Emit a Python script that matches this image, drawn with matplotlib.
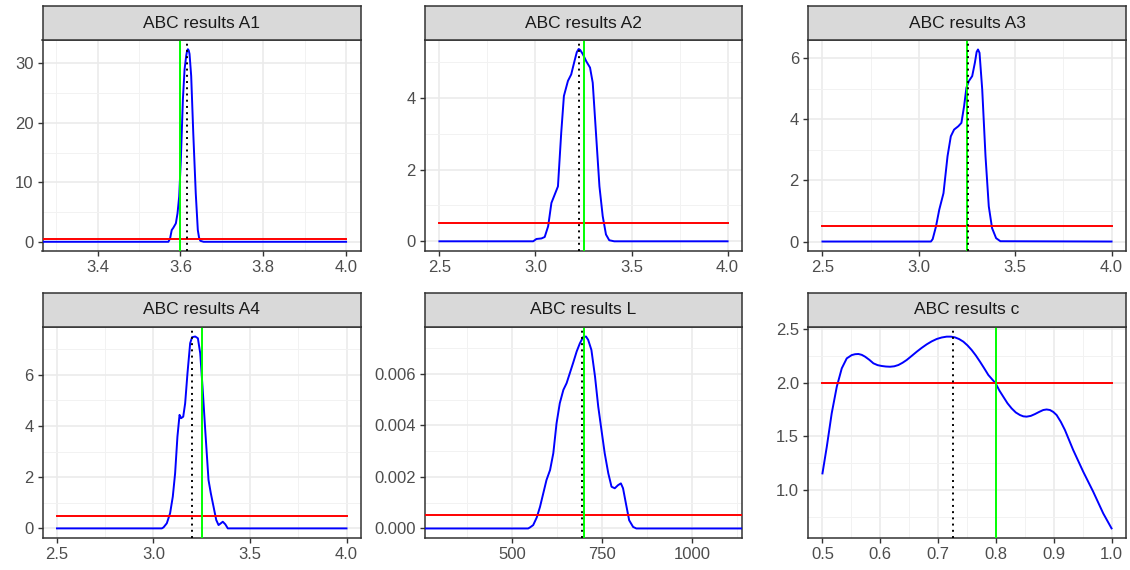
import matplotlib
matplotlib.use("Agg")
import matplotlib.pyplot as plt
from matplotlib.ticker import MultipleLocator

plt.rcParams['font.family'] = ['Liberation Sans', 'DejaVu Sans']

# ---- data ----
titles = ["ABC results A1", "ABC results A2", "ABC results A3",
          "ABC results A4", "ABC results L", "ABC results c"]

a1_x = [3.26, 3.571, 3.575, 3.579, 3.583, 3.589, 3.593, 3.597, 3.601, 3.606, 3.610,
        3.614, 3.616, 3.618, 3.620, 3.622, 3.626, 3.631, 3.637, 3.642, 3.645,
        3.648, 3.656, 4.0]
a1_y = [0, 0, 0.56, 1.97, 2.37, 3.10, 4.79, 7.61, 13.8, 24.0, 29.0,
        31.3, 32.1, 32.4, 32.2, 31.6, 27.9, 18.3, 8.18, 1.97, 0.7,
        0.17, 0, 0]

a2_x = [2.5, 2.988, 3.005, 3.031, 3.048, 3.066, 3.083, 3.10, 3.117, 3.134, 3.148,
        3.169, 3.186, 3.203, 3.215, 3.225, 3.233, 3.247, 3.264, 3.284, 3.298,
        3.316, 3.333, 3.35, 3.367, 3.384, 3.41, 4.0]
a2_y = [0, 0, 0.065, 0.08, 0.12, 0.42, 1.07, 1.30, 1.53, 3.02, 4.05,
        4.47, 4.65, 5.02, 5.27, 5.36, 5.33, 5.21, 5.02, 4.84, 4.42,
        2.93, 1.53, 0.70, 0.19, 0.03, 0, 0]

a3_x = [2.5, 3.063, 3.072, 3.089, 3.106, 3.128, 3.149, 3.166, 3.183, 3.205, 3.221,
        3.235, 3.247, 3.26, 3.277, 3.291, 3.300, 3.307, 3.315, 3.329, 3.346,
        3.363, 3.380, 3.401, 3.423, 4.0]
a3_y = [0, 0, 0.08, 0.49, 1.04, 1.58, 2.79, 3.44, 3.66, 3.77, 3.88,
        4.43, 5.03, 5.25, 5.41, 5.85, 6.20, 6.28, 6.17, 4.97, 2.79,
        1.15, 0.44, 0.11, 0.01, 0]

a4_x = [2.5, 3.043, 3.052, 3.069, 3.086, 3.10, 3.112, 3.124, 3.135, 3.143, 3.154,
        3.164, 3.176, 3.19, 3.20, 3.216, 3.23, 3.242, 3.254, 3.268, 3.285,
        3.297, 3.311, 3.325, 3.337, 3.349, 3.359, 3.372, 3.385, 4.0]
a4_y = [0, 0, 0.04, 0.2, 0.59, 1.24, 2.15, 3.58, 4.43, 4.30, 4.36,
        4.88, 6.05, 7.23, 7.46, 7.49, 7.42, 6.84, 5.53, 3.84, 1.89,
        1.37, 0.85, 0.33, 0.13, 0.2, 0.26, 0.16, 0, 0]

l_x = [250, 544, 549, 558, 568, 577, 586, 595, 605, 614, 623, 632, 642, 651, 660,
       669, 679, 688, 697, 705, 711, 720, 730, 739, 748, 757, 767, 776, 785,
       794, 802, 808, 816, 825, 836, 845, 1150]
l_y = [0, 0, 0.00004, 0.00013, 0.00043, 0.00084, 0.00136, 0.00188, 0.00227,
       0.00292, 0.00408, 0.00486, 0.00538, 0.00564, 0.00603, 0.00642, 0.00687,
       0.00719, 0.00743, 0.00745, 0.00732, 0.00693, 0.0059, 0.00473, 0.00382,
       0.00292, 0.00214, 0.00162, 0.00156, 0.00168, 0.00175, 0.00156, 0.00097,
       0.00032, 0.00006, 0, 0]

c_x = [0.5, 0.5075, 0.516, 0.5248, 0.5334, 0.542, 0.5507, 0.5565, 0.5622, 0.568,
       0.5737, 0.581, 0.5881, 0.5953, 0.6025, 0.6097, 0.6169, 0.6241, 0.6313,
       0.6385, 0.6457, 0.6543, 0.663, 0.6716, 0.6803, 0.689, 0.6976, 0.7062,
       0.7149, 0.7221, 0.7293, 0.7365, 0.7437, 0.7509, 0.7581, 0.7653, 0.7725,
       0.7797, 0.7869, 0.7995, 0.8062, 0.8128, 0.82, 0.8272, 0.8344, 0.8416,
       0.8474, 0.8531, 0.8603, 0.8675, 0.8747, 0.8819, 0.8877, 0.8934, 0.8992,
       0.905, 0.9122, 0.9194, 0.9337, 0.951, 0.9683, 0.9856, 1.0]
c_y = [1.153, 1.402, 1.714, 1.963, 2.134, 2.227, 2.258, 2.266, 2.268, 2.260,
       2.243, 2.214, 2.181, 2.164, 2.156, 2.151, 2.149, 2.153, 2.165,
       2.186, 2.212, 2.250, 2.289, 2.325, 2.358, 2.386, 2.408, 2.422,
       2.430, 2.430, 2.423, 2.407, 2.383, 2.348, 2.305, 2.254, 2.196,
       2.135, 2.072, 1.994, 1.925, 1.869, 1.808, 1.760, 1.722, 1.698,
       1.686, 1.683, 1.690, 1.707, 1.727, 1.745, 1.750, 1.745, 1.727,
       1.698, 1.635, 1.558, 1.371, 1.169, 0.982, 0.78, 0.64]

curves_x = [a1_x, a2_x, a3_x, a4_x, l_x, c_x]
curves_y = [a1_y, a2_y, a3_y, a4_y, l_y, c_y]

# prior level (red), its x span, true value (green), estimate (dotted)
prior_level = [0.5, 0.5, 0.5, 0.5, 0.00052, 2.0]
prior_from = [3.2, 2.5, 2.5, 2.5, 250, 0.5]
prior_to = [4.0, 4.0, 4.0, 4.0, 1150, 1.0]
true_value = [3.60, 3.25, 3.25, 3.25, 700, 0.80]
estimate = [3.616, 3.224, 3.255, 3.202, 694, 0.726]

# ---- layout / styling ----
xlims = [(3.267, 4.036), (2.425, 4.075), (2.425, 4.075),
         (2.425, 4.075), (257, 1139), (0.475, 1.025)]
ylims = [(-1.55, 33.95), (-0.27, 5.61), (-0.31, 6.59),
         (-0.375, 7.86), (-0.00037, 0.00782), (0.55, 2.52)]
xmajor = [0.2, 0.5, 0.5, 0.5, 250, 0.1]
ymajor = [10, 2, 2, 2, 0.002, 0.5]
xfmt = ["{:.1f}", "{:.1f}", "{:.1f}", "{:.1f}", "{:.0f}", "{:.1f}"]
yfmt = ["{:.0f}", "{:.0f}", "{:.0f}", "{:.0f}", "{:.3f}", "{:.1f}"]

W, H = 1130, 570
cols = [(42.5, 361), (425, 742), (808, 1126)]
rows = [(6, 40, 251), (293, 327, 538)]   # strip top, panel top, panel bottom

fig = plt.figure(figsize=(W / 100, H / 100), dpi=100)

for i in range(6):
    r, c = divmod(i, 3)
    x0, x1 = cols[c]
    st, pt, pb = rows[r]

    ax = fig.add_axes([x0 / W, 1 - pb / H, (x1 - x0) / W, (pb - pt) / H])
    ax.set_xlim(*xlims[i])
    ax.set_ylim(*ylims[i])

    ax.xaxis.set_major_locator(MultipleLocator(xmajor[i]))
    ax.xaxis.set_minor_locator(MultipleLocator(xmajor[i] / 2))
    ax.yaxis.set_major_locator(MultipleLocator(ymajor[i]))
    ax.yaxis.set_minor_locator(MultipleLocator(ymajor[i] / 2))
    ax.xaxis.set_major_formatter(lambda v, p, f=xfmt[i]: f.format(v))
    ax.yaxis.set_major_formatter(lambda v, p, f=yfmt[i]: f.format(v))

    ax.grid(which='major', color='#EBEBEB', lw=1.2)
    ax.grid(which='minor', color='#F2F2F2', lw=0.7)
    ax.set_axisbelow(True)
    ax.tick_params(which='major', length=3.5, width=1.0, color='#333333',
                   labelsize=12, labelcolor='#4D4D4D', pad=3)
    ax.tick_params(which='minor', length=0)
    for s in ax.spines.values():
        s.set_color('#333333')
        s.set_linewidth(1.1)

    ax.plot(curves_x[i], curves_y[i], color='#0000FF', lw=1.4, zorder=3)
    ax.plot([prior_from[i], prior_to[i]], [prior_level[i]] * 2,
            color='#FF0000', lw=1.4, zorder=4)
    ax.axvline(true_value[i], color='#00FF00', lw=1.4, zorder=5)
    ax.axvline(estimate[i], color='black', lw=1.4, ls=(0, (1, 2.2)), zorder=6)

    # facet strip
    sax = fig.add_axes([x0 / W, 1 - pt / H, (x1 - x0) / W, (pt - st) / H])
    sax.set_facecolor('#D9D9D9')
    sax.set_xticks([])
    sax.set_yticks([])
    for s in sax.spines.values():
        s.set_color('#333333')
        s.set_linewidth(1.1)
    sax.text(0.5, 0.5, titles[i], ha='center', va='center',
             fontsize=12.5, color='#1A1A1A', transform=sax.transAxes)

fig.savefig("out.png", dpi=100)
